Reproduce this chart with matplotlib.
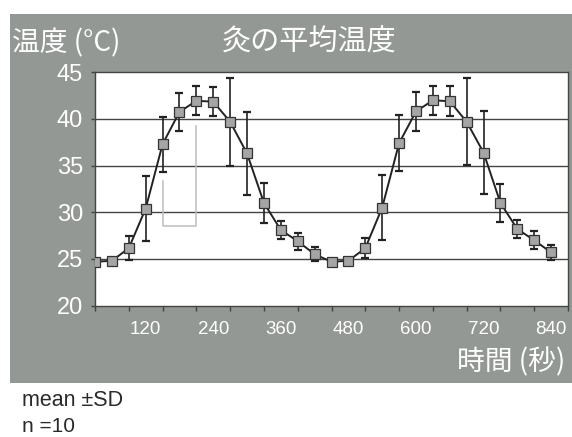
import matplotlib
matplotlib.use("Agg")
import matplotlib.pyplot as plt
from matplotlib.patches import Rectangle
from matplotlib.ticker import FixedLocator, FixedFormatter, NullFormatter

# ---- data ----
times = [30, 60, 90, 120, 150, 180, 210, 240, 270, 300, 330, 360, 390, 420,
         450, 480, 510, 540, 570, 600, 630, 660, 690, 720, 750, 780, 810, 840]
mean_temp = [24.7, 24.8, 26.15, 30.4, 37.3, 40.75, 41.95, 41.85, 39.7, 36.3,
             31.0, 28.1, 26.9, 25.5, 24.7, 24.8, 26.15, 30.5, 37.4, 40.8,
             42.0, 41.9, 39.7, 36.4, 31.0, 28.2, 27.0, 25.7]
sd_temp = [0.15, 0.15, 1.3, 3.5, 2.95, 2.0, 1.55, 1.55, 4.7, 4.45,
           2.1, 0.95, 0.9, 0.75, 0.15, 0.15, 1.1, 3.45, 3.0, 2.05,
           1.55, 1.6, 4.65, 4.4, 2.05, 0.95, 0.95, 0.8]
x_label_ticks = [120, 240, 360, 480, 600, 720, 840]
x_label_text = ["120", "240", "360", "480", "600", "720", "840"]
x_minor_marks = [30, 90, 150, 210, 270, 330, 390, 450, 510, 570, 630, 690, 750, 810, 870]
y_ticks = [20, 25, 30, 35, 40, 45]
y_grid = [25, 30, 35, 40]
# faint grey bracket visible in the scanned figure
bracket_x = [210, 210, 150, 150]
bracket_y = [39.2, 28.5, 28.5, 33.3]

title = "灸の平均温度"
ylabel = "温度 (°C)"
xlabel = "時間 (秒)"
note1 = "mean ±SD"
note2 = "n =10"

# ---- figure ----
W, H = 572, 437
fig = plt.figure(figsize=(W / 100, H / 100), dpi=100, facecolor="white")

def fx(px):
    return px / W

def fy(py):
    return 1 - py / H

panel_col = "#939894"
fig.patches.append(Rectangle((fx(10), fy(383)), fx(572) - fx(10), fy(14) - fy(383),
                             transform=fig.transFigure, facecolor=panel_col,
                             edgecolor="none", zorder=-5))

ax = fig.add_axes([fx(95), fy(305.6), fx(568) - fx(95), fy(72.3) - fy(305.6)])
ax.set_zorder(3)
ax.set_facecolor("white")
ax.set_xlim(30, 870)
ax.set_ylim(20, 45)

for g in y_grid:
    ax.axhline(g, color="#444444", lw=1.0, zorder=1)

ax.plot(bracket_x, bracket_y, color="#bdbdbd", lw=1.1, zorder=1)

ax.errorbar(times, mean_temp, yerr=sd_temp, fmt="none", ecolor="#222222",
            elinewidth=1.2, capsize=2.9, capthick=1.6, zorder=2)
ax.plot(times, mean_temp, color="#222222", lw=1.4, zorder=3)
ax.plot(times, mean_temp, linestyle="none", marker="s", markersize=6.8,
        markerfacecolor="#a5a5a5", markeredgecolor="#333333",
        markeredgewidth=0.9, zorder=4)

for s in ax.spines.values():
    s.set_color("#444444")
    s.set_linewidth(1.0)

latin = ["Liberation Sans", "DejaVu Sans"]
cjk = ["Noto Sans CJK JP", "DejaVu Sans"]

ax.set_yticks(y_ticks)
ax.set_yticklabels([str(v) for v in y_ticks], fontsize=17, color="white",
                   family=latin)
ax.tick_params(axis="y", direction="out", length=3, width=1, color="#444444",
               pad=5.6)

ax.xaxis.set_major_locator(FixedLocator(x_minor_marks))
ax.xaxis.set_major_formatter(NullFormatter())
ax.xaxis.set_minor_locator(FixedLocator(x_label_ticks))
ax.xaxis.set_minor_formatter(FixedFormatter(x_label_text))
ax.tick_params(axis="x", which="major", direction="out", length=3.5, width=1,
               color="#444444")
ax.tick_params(axis="x", which="minor", length=0, pad=11, labelsize=13.5,
               labelcolor="white")
for t in ax.xaxis.get_minorticklabels():
    t.set_family(latin)

fig.text(fx(12), fy(43), ylabel, fontsize=20, color="white", family=cjk,
         ha="left", va="center")
fig.text(fx(309), fy(43), title, fontsize=21, color="white", family=cjk,
         ha="center", va="center")
fig.text(fx(457), fy(362), xlabel, fontsize=20, color="white", family=cjk,
         ha="left", va="center")
fig.text(fx(22), fy(400), note1, fontsize=15.5, color="#2a2a2a", family=latin,
         ha="left", va="center")
fig.text(fx(22), fy(427), note2, fontsize=15, color="#2a2a2a", family=latin,
         ha="left", va="center")

fig.savefig("out.png", dpi=100, facecolor="white")
